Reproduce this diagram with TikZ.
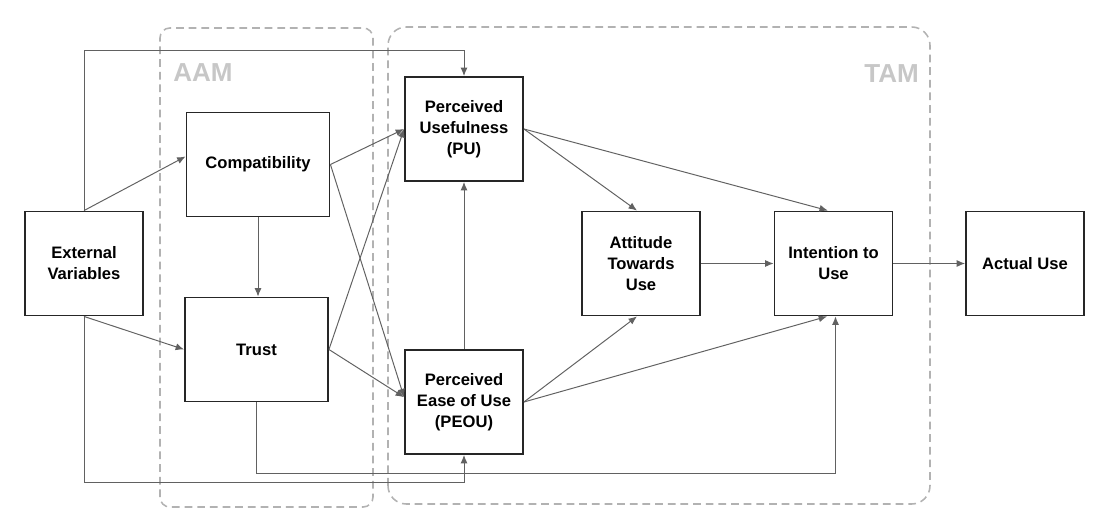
\documentclass[tikz,border=0pt]{standalone}
\usepackage{fontspec}
\setmainfont{Liberation Sans}
\usetikzlibrary{arrows.meta}
\tikzset{
  varbox/.style={draw=black!85, line width=1.3pt, minimum width=2.95cm, minimum height=2.6cm,
    align=center, font=\bfseries\fontsize{11.8}{14.9}\selectfont},
  widebox/.style={varbox, minimum width=3.575cm},
  link/.style={-{Latex[length=6pt,width=5pt]}, draw=black!62, line width=0.7pt},
  modelframe/.style={draw=black!30, line width=1.1pt, dash pattern=on 5.5pt off 3.5pt},
  modellabel/.style={text=black!22, font=\bfseries\fontsize{18.5}{22}\selectfont, inner sep=0pt}
}
\begin{document}
\begin{tikzpicture}[x=0.025cm, y=0.025cm]
  \useasboundingbox (0,0) rectangle (1103,527);
  % model frames
  \draw[modelframe, rounded corners=7pt] (160,20) rectangle (373,499);
  \draw[modelframe, rounded corners=13pt] (388,23) rectangle (930,500);
  \node[modellabel, anchor=base west] (aamlabel) at (173,445) {AAM};
  \node[modellabel, anchor=base east] (tamlabel) at (919,444) {TAM};
  % constructs
  \node[varbox] (ext) at (84,263.5) {External\\Variables};
  \node[widebox] (comp) at (258,362.5) {Compatibility};
  \node[widebox] (trust) at (256.5,177.5) {Trust};
  \node[varbox] (pu) at (464,398) {Perceived\\Usefulness\\(PU)};
  \node[varbox] (peou) at (464,125) {Perceived\\Ease of Use\\(PEOU)};
  \node[varbox] (att) at (641,263.5) {Attitude\\Towards\\Use};
  \node[varbox] (intent) at (833.5,263.5) {Intention to\\Use};
  \node[varbox] (actual) at (1025,263.5) {Actual Use};
  % levels of the long connectors
  \coordinate (topline) at (0,477);
  \coordinate (extline) at (0,45);
  \coordinate (trustline) at (0,54);
  % connectors
  \draw[link] (ext.north) -- ([yshift=2mm]comp.west);
  \draw[link] (ext.south) -- (trust.west);
  \draw[link] (ext.north) -- (ext.north |- topline) -| (pu.north);
  \draw[link] (ext.south) -- (ext.south |- extline) -| (peou.south);
  \draw[link] (comp.south) -- (comp.south |- trust.north);
  \draw[link] (comp.east) -- (pu.west);
  \draw[link] (comp.east) -- ([yshift=1.2mm]peou.west);
  \draw[link] (trust.east) -- (pu.west);
  \draw[link] (trust.east) -- ([yshift=1.2mm]peou.west);
  \draw[link] (trust.south) -- (trust.south |- trustline) -| ([xshift=0.5mm]intent.south);
  \draw[link] (peou.north) -- (pu.south);
  \draw[link] (pu.east) -- ([xshift=-1mm]att.north);
  \draw[link] (pu.east) -- ([xshift=-1.4mm]intent.north);
  \draw[link] (peou.east) -- ([xshift=-1mm]att.south);
  \draw[link] (peou.east) -- ([xshift=-1.6mm]intent.south);
  \draw[link] (att.east) -- (intent.west);
  \draw[link] (intent.east) -- (actual.west);
\end{tikzpicture}
\end{document}
